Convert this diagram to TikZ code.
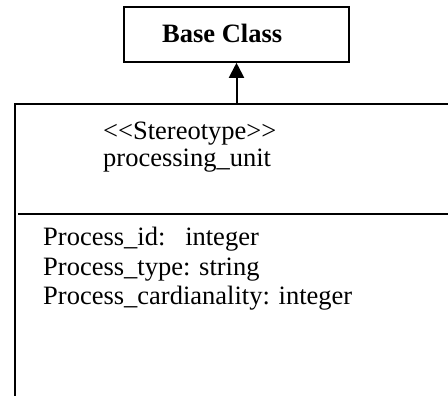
\documentclass[tikz,border=0pt]{standalone}
\usepackage{fontspec}
\setmainfont{Liberation Serif}
\usetikzlibrary{arrows.meta}
\begin{document}
\begin{tikzpicture}[x=1pt,y=-1pt,
  txt/.style={anchor=base west,inner sep=0pt,font=\fontsize{26.5}{30}\selectfont},
  boxline/.style={line width=1.6pt},
  thick line/.style={line width=2.2pt}]
\useasboundingbox (0,0) rectangle (448,396);
% Base class
\node[draw,boxline,minimum width=225pt,minimum height=55pt,inner sep=0pt] (base) at (236.5,34.5) {};
\node[txt,font=\fontsize{26.5}{30}\selectfont\bfseries] (basetxt) at (162,43) {Base Class};
% Big class box outline (open at right and bottom)
\coordinate (tl) at (15,104);
\coordinate (tr) at (449,104);
\coordinate (bl) at (15,397);
\coordinate (top) at (236.5,104);
\coordinate (sepl) at (18,214);
\coordinate (sepr) at (449,214);
\draw[thick line] (tr) -- (tl) -- (bl);
\draw[boxline] (sepl) -- (sepr);
% Inheritance arrow
\draw[line width=2pt,-{Triangle[length=15pt,width=15pt]}] (top) -- (base.south);
% Texts
\node[txt] (st) at (103,139.5) {<\kern0pt<Stereotype>\kern0pt>};
\node[txt] (pu) at (103,166.5) {processing\_unit};
\node[txt] (a1) at (43,245.5) {Process\_id:\ \ \ integer};
\node[txt] (a2) at (43,275.5) {Process\_type: string};
\node[txt] (a3) at (43,305) {Process\_cardianality: integer};
\end{tikzpicture}
\end{document}
